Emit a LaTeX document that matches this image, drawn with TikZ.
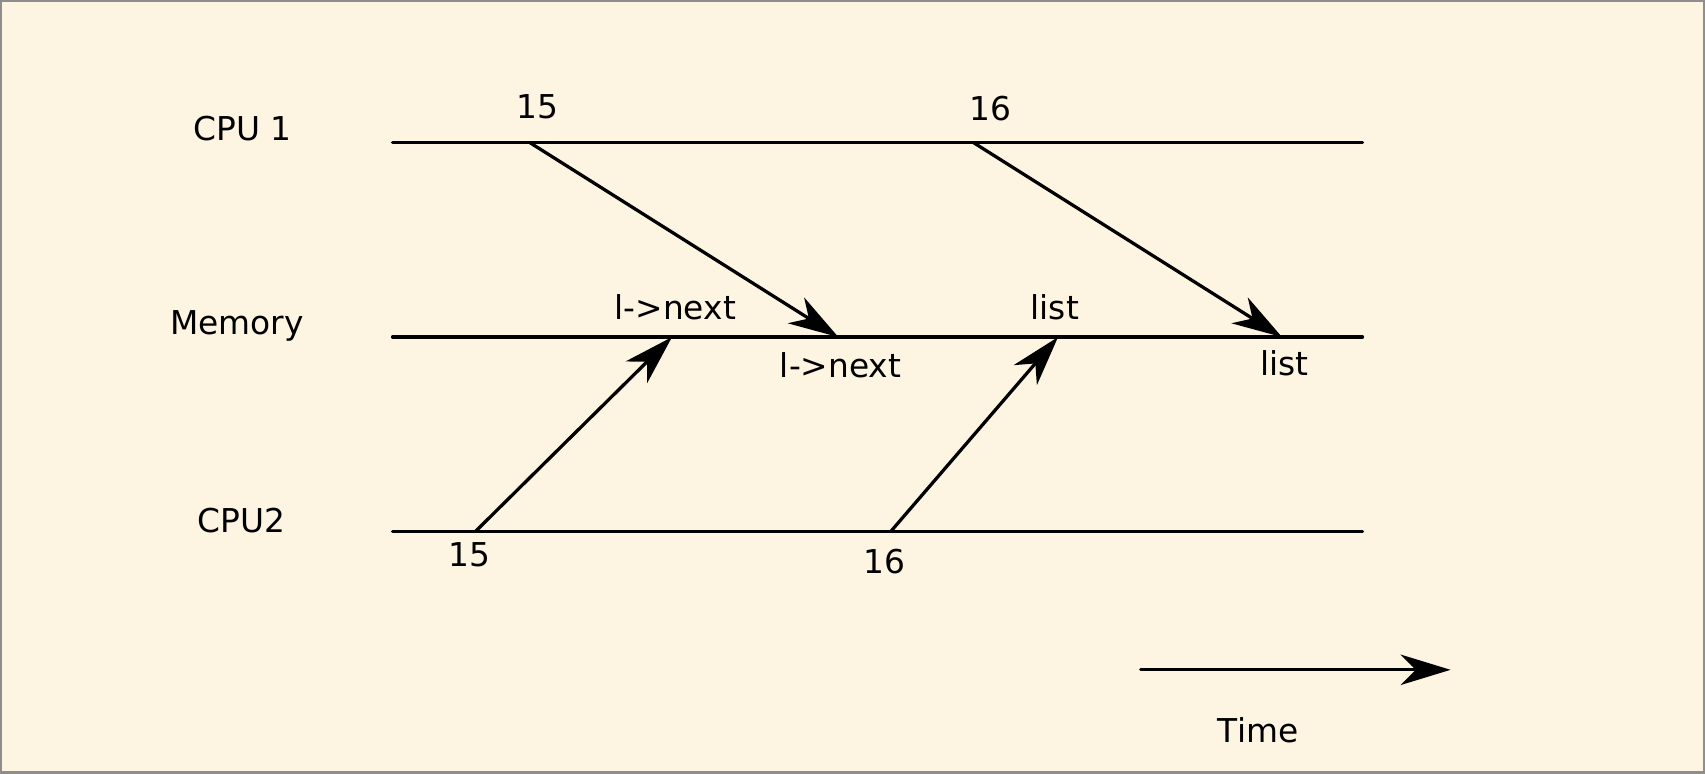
\documentclass[tikz,border=0pt]{standalone}
\usepackage{fontspec}
\setmainfont{DejaVu Sans}
\usepackage[dvipsnames,svgnames]{xcolor}
\usepackage{tkz-euclide}
\usetikzlibrary{arrows.meta}
\definecolor{cream}{HTML}{FDF5E2}
\definecolor{frame}{HTML}{8E8E8E}
\tikzset{
  lane/.style={line width=1.5pt},
  tick/.style={line width=1.5pt,-{Stealth[length=23pt,width=14pt,inset=7pt]}},
  txt/.style={font=\fontsize{15.1}{18}\selectfont,inner sep=0pt}
}

\begin{document}
\begin{tikzpicture}[x=5pt,y=5pt]
 \useasboundingbox (0,0) rectangle (156.8,71.1);
 \fill[cream,draw=frame,line width=1.8pt] (0,0) rectangle (156.8,71.1);
 \tkzDefPoints{36.1/58.0/Ca,125.3/58.0/Cb,36.1/40.1/Ma,125.3/40.1/Mb,
               36.1/22.2/Da,125.3/22.2/Db}
 \tkzDefPoints{48.7/58.0/P1,77.1/40.1/Q1,89.5/58.0/P2,117.9/40.1/Q2,
               43.7/22.2/R1,61.8/40.1/S1,81.9/22.2/R2,97.3/40.1/S2,
               104.9/9.5/Ta,133.4/9.5/Tb}
 \tkzDrawSegments[lane](Ca,Cb Ma,Mb Da,Db)
 \tkzDrawSegments[tick](P1,Q1 P2,Q2 R1,S1 R2,S2 Ta,Tb)
 \node[txt] (cpuA) at (22.3,59.3) {CPU 1};
 \node[txt] (mem)  at (21.8,41.1) {Memory};
 \node[txt] (cpuB) at (22.2,23.2) {CPU2};
 \node[txt] (tA15) at (49.4,61.3) {15};
 \node[txt] (tA16) at (91.1,61.1) {16};
 \node[txt] (tB15) at (43.2,20.1) {15};
 \node[txt] (tB16) at (81.3,19.5) {16};
 \node[txt] (wNext) at (62.1,42.8) {l->next};
 \node[txt] (wList) at (97.0,42.8) {list};
 \node[txt] (rNext) at (77.3,37.5) {l->next};
 \node[txt] (rList) at (118.1,37.7) {list};
 \node[txt] (time) at (115.7,3.9) {Time};
\end{tikzpicture}
\end{document}
